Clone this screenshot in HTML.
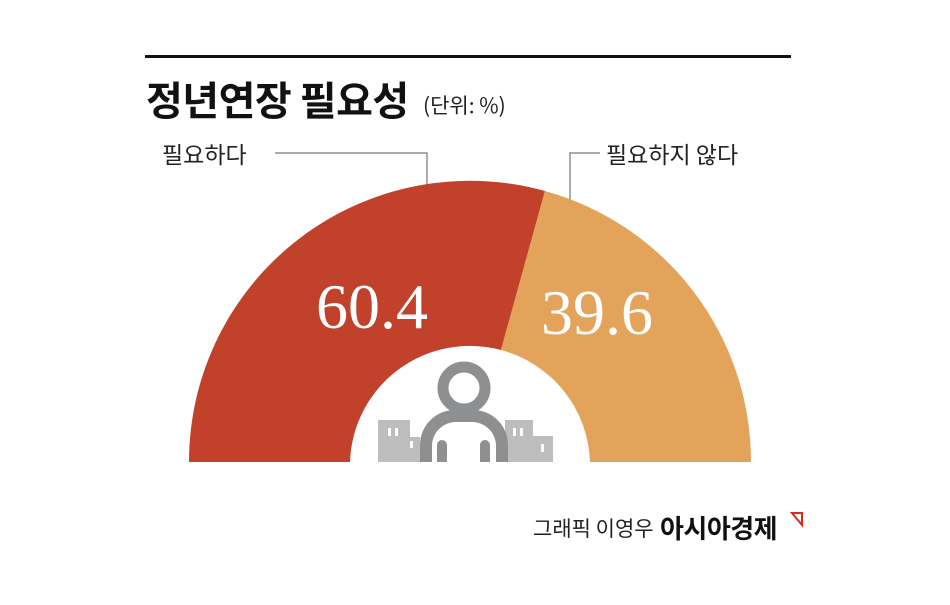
<!DOCTYPE html>
<html><head><meta charset="utf-8"><style>
body{margin:0;background:#fff;width:950px;height:600px;overflow:hidden;font-family:"Liberation Sans","Noto Sans CJK KR",sans-serif}
</style></head><body>
<svg width="950" height="600" viewBox="0 0 950 600">
<rect x="145" y="55" width="646" height="3" fill="#111"/>
<text x="146" y="115" font-size="40" font-weight="bold" fill="#111" font-family="Noto Sans CJK KR,sans-serif" letter-spacing="-0.5">정년연장 필요성</text>
<text x="423" y="113" font-size="21" fill="#222" font-family="Noto Sans CJK KR,sans-serif">(단위: %)</text>
<text x="162" y="163" font-size="23" fill="#222" font-family="Noto Sans CJK KR,sans-serif">필요하다</text>
<text x="606" y="163" font-size="23" fill="#222" font-family="Noto Sans CJK KR,sans-serif">필요하지 않다</text>
<polyline points="275,153 427,153 427,188" fill="none" stroke="#777" stroke-width="1.2"/>
<polyline points="600,153 570,153 570,206" fill="none" stroke="#777" stroke-width="1.2"/>
<path d="M189,462 A281,281 0 0 1 545,191 L501,350 A120,120 0 0 0 350,462 Z" fill="#c2412a"/>
<path d="M545,191 A281,281 0 0 1 751,462 L590,462 A120,120 0 0 0 501,350 Z" fill="#e3a35a"/>
<text x="372" y="328" font-size="64" fill="#fff" text-anchor="middle" font-family="Liberation Serif,serif">60.4</text>
<text x="597" y="334" font-size="64" fill="#fff" text-anchor="middle" font-family="Liberation Serif,serif">39.6</text>
<g fill="#bdbdbd">
<rect x="378" y="420" width="32" height="42"/><rect x="405" y="437" width="15" height="25"/>
<rect x="505" y="420" width="28" height="42"/><rect x="528" y="436" width="25" height="26"/>
</g>
<g fill="#fff"><rect x="388" y="428" width="3" height="8"/><rect x="395" y="428" width="3" height="8"/><rect x="410" y="441" width="3" height="7"/>
<rect x="513" y="428" width="3" height="8"/><rect x="520" y="428" width="3" height="8"/><rect x="541" y="444" width="3" height="8"/></g>
<circle cx="464" cy="388" r="21" fill="none" stroke="#8e8f91" stroke-width="11"/>
<path d="M420,462 L420,445 A35,35 0 0 1 455,410 L473,410 A35,35 0 0 1 508,445 L508,462 Z" fill="#8e8f91"/>
<path d="M432,462 L432,446 A24,24 0 0 1 456,422 L472,422 A24,24 0 0 1 496,446 L496,462 Z" fill="#fff"/>
<path d="M437,462 L437,445 A5,5 0 0 1 447,445 L447,462 Z M480,462 L480,445 A5,5 0 0 1 490,445 L490,462 Z" fill="#8e8f91"/>
<text x="533" y="536" font-size="21" fill="#222" font-family="Noto Sans CJK KR,sans-serif">그래픽 이영우</text>
<text x="660" y="538" font-size="26" font-weight="bold" fill="#111" font-family="Noto Sans CJK KR,sans-serif" letter-spacing="-0.5">아시아경제</text>
<path d="M792,513 L802,513 L802,525 Z" fill="none" stroke="#d62b1e" stroke-width="2"/>
</svg>
</body></html>
